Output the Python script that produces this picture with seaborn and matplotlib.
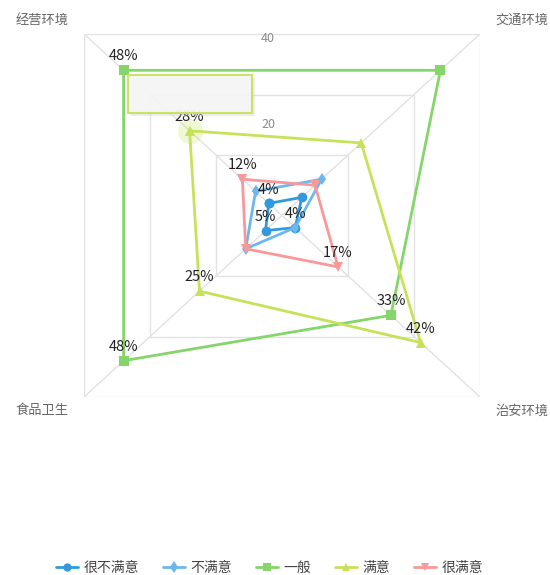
import numpy as np
import matplotlib
matplotlib.use("Agg")
import matplotlib.pyplot as plt
import seaborn as sns
from matplotlib.lines import Line2D
from matplotlib.patches import Rectangle

# ===== DATA =====
categories = ["经营环境", "交通环境", "治安环境", "食品卫生"]
angles_deg = [135, 45, -45, -135]
series_names = ["很不满意", "不满意", "一般", "满意", "很满意"]

v_very_unsat = [4, 6, 4, 5]
v_unsat = [8, 12, 4, 11]
v_normal = [48, 48, 33, 48]
v_sat = [28, 24, 42, 25]
v_very_sat = [12, 10, 17, 11]

# which point labels are visible in the picture (others hidden by overlap)
show_very_unsat = [1, 0, 1, 1]
show_unsat = [0, 0, 0, 0]
show_normal = [1, 0, 1, 1]
show_sat = [1, 0, 1, 1]
show_very_sat = [1, 0, 1, 0]

ring_values = [20, 40, 60]
ring_labels = ["20", "40"]
r_max = 60

colors = ["#3399dd", "#6cb8ec", "#86d56a", "#c6e25b", "#f7999a"]
markers = ["o", "d", "s", "^", "v"]

all_values = [v_very_unsat, v_unsat, v_normal, v_sat, v_very_sat]
all_show = [show_very_unsat, show_unsat, show_normal, show_sat, show_very_sat]

sns.set_theme(style="white")
plt.rcParams['font.family'] = ['Noto Sans CJK SC', 'DejaVu Sans']

fig = plt.figure(figsize=(5.5, 5.75), dpi=100)
W, H = 550, 575
left, right, top, bottom = 84, 480, 34, 397
ax = fig.add_axes([left / W, 1 - bottom / H, (right - left) / W, (bottom - top) / H])
lim = r_max * np.cos(np.pi / 4)
ax.set_xlim(-lim, lim)
ax.set_ylim(-lim, lim)
ax.axis("off")

th = np.deg2rad(angles_deg)

def to_xy(vals):
    vals = np.asarray(vals, dtype=float)
    return vals * np.cos(th), vals * np.sin(th)

# ===== GRID =====
for rv in ring_values:
    gx, gy = to_xy([rv] * len(categories))
    ax.plot(np.append(gx, gx[0]), np.append(gy, gy[0]), color="#e2e2e2", lw=1.0, zorder=1)
for t in th:
    ax.plot([0, r_max * np.cos(t)], [0, r_max * np.sin(t)], color="#e2e2e2", lw=1.0, zorder=1)

for rv, lab in zip(ring_values, ring_labels):
    ax.annotate(lab, (0, rv), xytext=(-10, 4), textcoords="offset points",
                ha="center", va="center", fontsize=9, color="#8c8c8c")

# category names
offs = {135: (-30, 10), 45: (30, 10), -45: (30, -10), -135: (-30, -10)}
for name, a, t in zip(categories, angles_deg, th):
    ax.annotate(name, (r_max * np.cos(t), r_max * np.sin(t)), xytext=offs[a],
                textcoords="offset points", ha="center", va="center",
                fontsize=9.5, color="#666666", annotation_clip=False)

# ===== SERIES =====
for name, vals, col, mk, show in zip(series_names, all_values, colors, markers, all_show):
    x, y = to_xy(vals)
    xs = np.append(x, x[0])
    ys = np.append(y, y[0])
    sns.lineplot(x=xs, y=ys, sort=False, estimator=None, color=col, lw=2,
                 marker=mk, markersize=7 if mk != "d" else 6, markeredgewidth=0,
                 ax=ax, zorder=3, legend=False)
    for xi, yi, v, s in zip(x, y, vals, show):
        if s:
            ax.annotate(f"{v}%", (xi, yi), xytext=(0, 10), textcoords="offset points",
                        ha="center", va="center", fontsize=10.5, color="#222222", zorder=4)

# hover halo on the highlighted point
hx, hy = to_xy(v_sat)
ax.plot(hx[0], hy[0], "o", ms=18, color=colors[3], alpha=0.25, mec="none", zorder=2)

# tooltip box seen in the picture
fig.patches.append(Rectangle((131 / W, 1 - 116 / H), 124 / W, 38 / H, transform=fig.transFigure,
                             facecolor="#cccccc", edgecolor="none", alpha=0.35, zorder=5))
fig.patches.append(Rectangle((128 / W, 1 - 113 / H), 124 / W, 38 / H, transform=fig.transFigure,
                             facecolor="#f6f6f6", edgecolor="#c6e25b", lw=1.5, alpha=0.93, zorder=6))

# ===== LEGEND =====
handles = [Line2D([0], [0], color=c, lw=2, marker=m, ms=6, mew=0) for c, m in zip(colors, markers)]
fig.legend(handles, series_names, loc="lower center", bbox_to_anchor=(0.49, -0.022), ncol=5,
           frameon=False, fontsize=10, handlelength=1.6, handletextpad=0.4, columnspacing=1.7,
           labelcolor="#444444")

fig.savefig("out.png", dpi=100)
